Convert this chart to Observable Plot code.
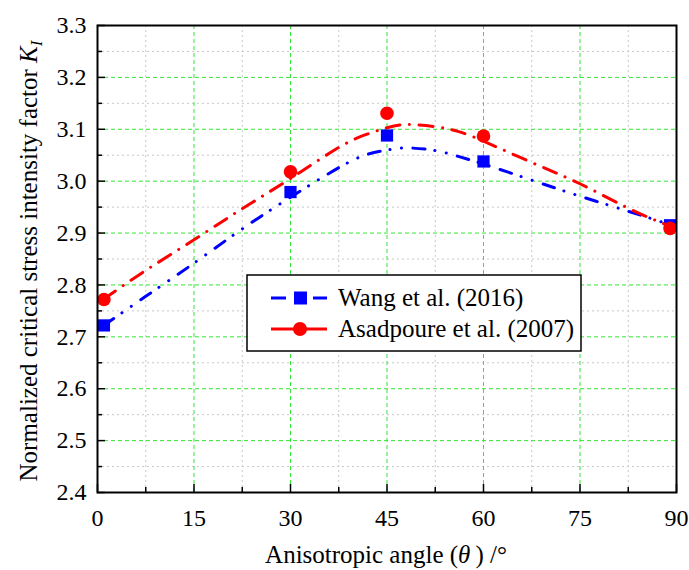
<!DOCTYPE html>
<html><head><meta charset="utf-8">
<script src="https://cdn.jsdelivr.net/npm/d3@7"></script>
<script src="https://cdn.jsdelivr.net/npm/@observablehq/plot@0.6"></script>
<style>body{margin:0;background:#fff}</style>
</head><body><div id="chart"></div>
<script>
// ---- data ----
const angles = [1, 30, 45, 60, 89];
const wangValues = [2.722, 2.979, 3.088, 3.038, 2.915];
const asadValues = [2.772, 3.018, 3.131, 3.087, 2.909];
// fitted curves
const curveAngles = [1, 7.5, 15, 22.5, 30, 37.5, 42, 45, 48, 52.5, 56, 60, 67.5, 75, 82.5, 89];
const wangCurve = [2.722, 2.778, 2.842, 2.908, 2.969, 3.026, 3.052, 3.060, 3.064, 3.059, 3.048, 3.033, 3.002, 2.971, 2.942, 2.916];
const asadCurve = [2.773, 2.828, 2.887, 2.947, 3.005, 3.065, 3.091, 3.103, 3.109, 3.105, 3.096, 3.077, 3.036, 2.995, 2.948, 2.913];
const xTicks = [0, 15, 30, 45, 60, 75, 90];
const xMinor = [7.5, 22.5, 37.5, 52.5, 67.5, 82.5];
const yTicks = [2.4, 2.5, 2.6, 2.7, 2.8, 2.9, 3.0, 3.1, 3.2, 3.3];
const yMinor = [2.45, 2.55, 2.65, 2.75, 2.85, 2.95, 3.05, 3.15, 3.25];
const seriesNames = ["Wang et al. (2016)", "Asadpoure et al. (2007)"];
const seriesColors = ["#0000ff", "#ff0000"];

const pts = (xs, ys) => xs.map((x, i) => ({x, y: ys[i]}));
const wangPts = pts(angles, wangValues);
const asadPts = pts(angles, asadValues);
const wangLine = pts(curveAngles, wangCurve);
const asadLine = pts(curveAngles, asadCurve);

const green = "#33e633";
const grey = "#c8c8c8";
const font = "Liberation Serif";

const plot = Plot.plot({
  width: 689, height: 570,
  marginLeft: 97, marginRight: 13, marginTop: 25, marginBottom: 78,
  x: {domain: [0, 90]},
  y: {domain: [2.4, 3.3]},
  style: `font-family: '${font}'; font-size: 24px; color: black; background: white;`,
  marks: [
    Plot.gridX(xMinor, {stroke: grey, strokeOpacity: 1, strokeDasharray: "2,3"}),
    Plot.gridY(yMinor, {stroke: grey, strokeOpacity: 1, strokeDasharray: "2,3"}),
    Plot.gridX(xTicks.slice(1, -1), {stroke: green, strokeOpacity: 1, strokeDasharray: "4,3"}),
    Plot.gridY(yTicks.slice(1, -1), {stroke: green, strokeOpacity: 1, strokeDasharray: "4,3"}),
    Plot.line(wangLine, {x: "x", y: "y", curve: "natural", stroke: seriesColors[0], strokeWidth: 3,
      strokeLinecap: "round", strokeDasharray: "12,10,0.1,11.5,0.1,11.4"}),
    Plot.dot(wangPts, {x: "x", y: "y", symbol: "square", r: 6.9, fill: seriesColors[0], stroke: "none"}),
    Plot.line(asadLine, {x: "x", y: "y", curve: "natural", stroke: seriesColors[1], strokeWidth: 3,
      strokeLinecap: "round", strokeDasharray: "14,9.5,0.1,9.5"}),
    Plot.dot(asadPts, {x: "x", y: "y", r: 6.8, fill: seriesColors[1], stroke: "none"}),
    Plot.ruleX(xTicks, {x: d => d, y1: 2.4, y2: 2.4, insetTop: -8, stroke: "black", strokeWidth: 1.5}),
    Plot.ruleX(xMinor, {x: d => d, y1: 2.4, y2: 2.4, insetTop: -5, stroke: "black", strokeWidth: 1.5}),
    Plot.ruleY(yTicks, {y: d => d, x1: 0, x2: 0, insetRight: -8, stroke: "black", strokeWidth: 1.5}),
    Plot.ruleY(yMinor, {y: d => d, x1: 0, x2: 0, insetRight: -5, stroke: "black", strokeWidth: 1.5}),
    Plot.axisX({ticks: xTicks, tickSize: 0, tickPadding: 16, fontSize: 24, label: null}),
    Plot.axisY({ticks: yTicks, tickSize: 0, tickPadding: 11, fontSize: 24, label: null, tickFormat: d3.format(".1f")}),
    Plot.frame({stroke: "black", strokeWidth: 2})
  ]
});
document.getElementById("chart").appendChild(plot);

const svg = d3.select(plot).attr("font-family", font);
// y title
const yt = svg.append("text")
  .attr("transform", "translate(37,261) rotate(-90)")
  .attr("text-anchor", "middle")
  .attr("font-size", 25).attr("fill", "black");
yt.append("tspan").text("Normalized critical stress intensity factor ");
yt.append("tspan").attr("font-style", "italic").text("K");
yt.append("tspan").attr("font-style", "italic").attr("font-size", 17).attr("dy", 5).text("I");
// x title
const xt = svg.append("text")
  .attr("x", 386).attr("y", 563)
  .attr("text-anchor", "middle")
  .attr("font-size", 25).attr("fill", "black");
xt.append("tspan").text("Anisotropic angle (");
xt.append("tspan").attr("font-style", "italic").text("θ");
xt.append("tspan").text("\u2009) /°");

// legend
const lg = svg.append("g");
lg.append("rect").attr("x", 247).attr("y", 275).attr("width", 334).attr("height", 76)
  .attr("fill", "white").attr("stroke", "black").attr("stroke-width", 1.5);
const rows = [298, 329];
// Wang
lg.append("line").attr("x1", 271).attr("x2", 286).attr("y1", rows[0]).attr("y2", rows[0])
  .attr("stroke", seriesColors[0]).attr("stroke-width", 3);
lg.append("line").attr("x1", 313).attr("x2", 327).attr("y1", rows[0]).attr("y2", rows[0])
  .attr("stroke", seriesColors[0]).attr("stroke-width", 3);
lg.append("rect").attr("x", 294).attr("y", rows[0] - 6.5).attr("width", 13).attr("height", 13)
  .attr("fill", seriesColors[0]);
// Asadpoure
lg.append("line").attr("x1", 271).attr("x2", 327).attr("y1", rows[1]).attr("y2", rows[1])
  .attr("stroke", seriesColors[1]).attr("stroke-width", 3);
lg.append("circle").attr("cx", 300).attr("cy", rows[1]).attr("r", 7).attr("fill", seriesColors[1]);
seriesNames.forEach((n, i) => {
  lg.append("text").attr("x", 338).attr("y", rows[i]).attr("dy", "0.33em")
    .attr("text-anchor", "start")
    .attr("font-size", 25).attr("fill", "black").text(n);
});
svg.selectAll("text").attr("font-family", font);
</script>
</body></html>
